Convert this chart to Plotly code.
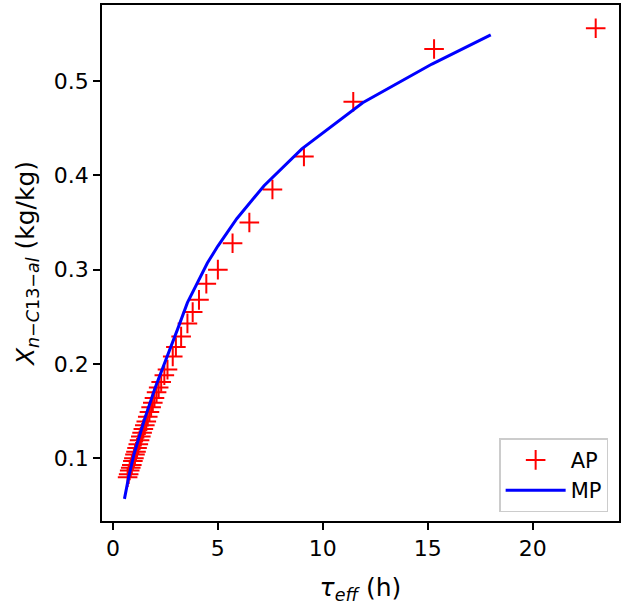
import plotly.graph_objects as go

# AP: measured points (tau_eff in h, X in kg/kg)
ap_tau = [0.70, 0.75, 0.80, 0.85, 0.90, 0.95, 1.00, 1.05, 1.10, 1.15, 1.21, 1.27,
          1.33, 1.39, 1.45, 1.52, 1.59, 1.66, 1.74, 1.82, 1.90, 1.98, 2.08, 2.18,
          2.30, 2.45, 2.60, 2.85, 3.00, 3.25, 3.55, 3.80, 4.10, 4.45, 5.00, 5.70,
          6.50, 7.60, 9.10, 11.45, 15.30, 23.00]
ap_x = [0.080, 0.083, 0.087, 0.090, 0.093, 0.097, 0.100, 0.104, 0.107, 0.111, 0.115, 0.119,
        0.123, 0.127, 0.131, 0.135, 0.139, 0.144, 0.149, 0.154, 0.159, 0.164, 0.170, 0.175,
        0.181, 0.188, 0.194, 0.208, 0.218, 0.229, 0.243, 0.255, 0.268, 0.285, 0.300, 0.328,
        0.350, 0.385, 0.420, 0.478, 0.534, 0.556]

# MP: model prediction
mp_tau = [0.55, 0.75, 1.0, 1.25, 1.5, 2.0, 2.6, 3.1, 3.55, 4.05, 4.5, 5.0, 5.9, 7.2, 9.0, 11.9, 15.2, 18.0]
mp_x = [0.057, 0.080, 0.104, 0.123, 0.141, 0.174, 0.208, 0.238, 0.265, 0.287, 0.307, 0.325,
        0.354, 0.389, 0.428, 0.477, 0.518, 0.549]

fig = go.Figure()
fig.add_trace(go.Scatter(x=ap_tau, y=ap_x, mode="markers", name="AP",
                         marker=dict(symbol="cross-thin", size=14, color="red",
                                     line=dict(color="red", width=2))))
fig.add_trace(go.Scatter(x=mp_tau, y=mp_x, mode="lines", name="MP",
                         line=dict(color="blue", width=3)))

axis_common = dict(showline=True, linecolor="black", linewidth=1.5, mirror=True,
                   ticks="outside", ticklen=7, tickwidth=1.5, tickcolor="black",
                   showgrid=False, zeroline=False,
                   tickfont=dict(family="DejaVu Sans", size=22, color="black"))

fig.update_xaxes(range=[-0.52, 24.11], tickvals=[0, 5, 10, 15, 20],
                 title=dict(text="<i>τ</i><sub><i>eff</i></sub> (h)",
                            font=dict(family="DejaVu Sans", size=25, color="black"),
                            standoff=18),
                 **axis_common)
fig.update_yaxes(range=[0.0335, 0.5806], tickvals=[0.1, 0.2, 0.3, 0.4, 0.5],
                 ticktext=["0.1", "0.2", "0.3", "0.4", "0.5"],
                 title=dict(text="<i>X</i><sub><i>n</i>−<i>C</i>13−<i>al</i></sub> (kg/kg)",
                            font=dict(family="DejaVu Sans", size=25, color="black"),
                            standoff=12),
                 **axis_common)

fig.update_layout(
    width=624, height=606,
    margin=dict(l=102, r=3, t=5, b=85),
    plot_bgcolor="white", paper_bgcolor="white",
    font=dict(family="DejaVu Sans", color="black"),
    legend=dict(x=0.979, y=0.017, xanchor="right", yanchor="bottom",
                bordercolor="#cccccc", borderwidth=1.5, bgcolor="white",
                itemwidth=60, tracegroupgap=4,
                font=dict(family="DejaVu Sans", size=21, color="black")),
)

# drop the browser's default 8px body margin so the figure sits at the page corner
fig.write_html("out.html", config={"displayModeBar": False},
               post_script="document.body.style.margin='0px';")
